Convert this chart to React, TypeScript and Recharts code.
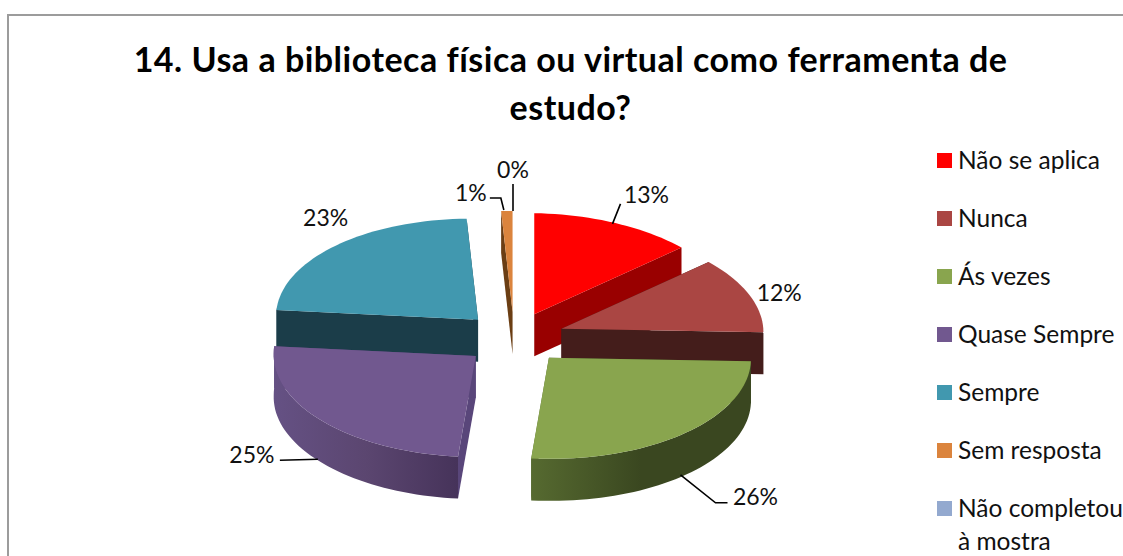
import React from "react";
import { PieChart, Pie, Legend } from "recharts";

const W = 1123;
const H = 556;

const categories = ["Não se aplica", "Nunca", "Ás vezes", "Quase Sempre", "Sempre", "Sem resposta", "Não completou à mostra"];
const values = [13, 12, 26, 25, 23.1, 0.9, 0];
const topColors = ["#FF0000", "#AA4643", "#89A54E", "#71588F", "#4198AF", "#DB843D", "#93A9CF"];
const sideColors = ["#990000", "#441D1B", "#3A4720", "#59467A", "#1B3D49", "#6B3E14", "#3E4F70"];
const wallStops: string[][] = [
  ["#990000", "#990000"],
  ["#441D1B", "#441D1B"],
  ["#566A30", "#3A4720", "#3A4720"],
  ["#655184", "#5B4670", "#46335A"],
  ["#1B3D49", "#1B3D49"],
  ["#6B3E14", "#6B3E14"],
  ["#3E4F70", "#3E4F70"],
];
// painter's order: back slices first, clockwise so the library's angles stay right
const drawOrder = [4, 5, 6, 0, 1, 2, 3];

const total = values.reduce((a, b) => a + b, 0);
const before = values.slice(0, drawOrder[0]).reduce((a, b) => a + b, 0);
const startAngle = 90 - (before / total) * 360;

const pieData = drawOrder.map((i) => ({
  name: categories[i],
  value: values[i],
  fill: topColors[i],
  idx: i,
}));

const RATIO = 0.5;
const DEPTH = 42;
const EXPLODE_X = 51;
const EXPLODE_Y = 26.5;
const rad = (d: number) => (d * Math.PI) / 180;

function projector(cx: number, cy: number, R: number, mid: number) {
  const ox = cx + EXPLODE_X * Math.sin(rad(mid));
  const oy = cy - EXPLODE_Y * Math.cos(rad(mid));
  const pt = (theta: number, r = R) => {
    const sx = r * Math.sin(rad(theta));
    const sy = -r * RATIO * Math.cos(rad(theta));
    return [ox + sx - 0.05 * Math.max(0, sy), oy + sy + 0.017 * sx];
  };
  return pt;
}

const poly = (pts: number[][]) => pts.map((p) => `${p[0].toFixed(2)},${p[1].toFixed(2)}`).join(" ");
const down = (p: number[]) => [p[0], p[1] + DEPTH];

function arcPts(pt: (t: number) => number[], a: number, b: number) {
  const n = Math.max(2, Math.ceil((b - a) / 2));
  const out: number[][] = [];
  for (let k = 0; k <= n; k++) out.push(pt(a + ((b - a) * k) / n));
  return out;
}

function Slice3D(props: any) {
  const { cx, cy, outerRadius, startAngle: sa, endAngle: ea, payload, idx } = props;
  const i = payload?.idx ?? idx;
  const t0 = 90 - sa;
  const t1 = 90 - ea;
  const a = Math.min(t0, t1);
  const b = Math.max(t0, t1);
  const norm = a < 0 ? 360 : a >= 360 ? -360 : 0;
  const th0 = a + norm;
  const th1 = b + norm;
  if (th1 - th0 < 0.01) return <g />;
  const mid = (th0 + th1) / 2;
  const pt = projector(cx, cy, outerRadius, mid);
  const apex = pt(0, 0);
  const p0 = pt(th0);
  const p1 = pt(th1);
  const top = [apex, ...arcPts(pt, th0, th1)];
  const fa = Math.max(th0, 90);
  const fb = Math.min(th1, 275);
  const gradId = `wall-${i}`;
  const stops = wallStops[i];
  let wall: React.ReactNode = null;
  if (fb > fa) {
    const front = arcPts(pt, fa, fb);
    wall = <polygon points={poly([...front, ...front.slice().reverse().map(down)])} fill={`url(#${gradId})`} />;
  }
  return (
    <g>
      <defs>
        <linearGradient id={gradId} x1="0" y1="0" x2="1" y2="0">
          {stops.map((c, k) => (
            <stop key={k} offset={k / (stops.length - 1)} stopColor={c} />
          ))}
        </linearGradient>
      </defs>
      <polygon points={poly([apex, p0, down(p0), down(apex)])} fill={sideColors[i]} />
      <polygon points={poly([apex, p1, down(p1), down(apex)])} fill={i === 3 ? sideColors[i] : stops[0]} />
      {wall}
      <polygon points={poly(top)} fill={topColors[i]} />
    </g>
  );
}

// label text centre and leader bends, relative to the point where each slice's mid-arc lands
const labelLayout: Record<number, { text: number[]; line?: number[][] }> = {
  0: { text: [32, -29], line: [[-2, 1], [6, -19]] },
  1: { text: [30, -3] },
  2: { text: [72, 62], line: [[-3, 41], [32, 69], [44, 69]] },
  3: { text: [-69, 34], line: [[-3, 39], [-41, 40]] },
  4: { text: [-10, -29] },
  5: { text: [-36, -19], line: [[-3, -1], [-6, -13], [-17, -13]] },
  6: { text: [-1, -42], line: [[-1, 0], [-1, -27]] },
};

function SliceLabel(props: any) {
  const { cx, cy, outerRadius, midAngle, payload, value } = props;
  const i = payload?.idx;
  const layout = labelLayout[i];
  if (!layout) return <g />;
  let th = 90 - midAngle;
  while (th < 0) th += 360;
  if (th === 0) th = 360;
  const pt = projector(cx, cy, outerRadius, th);
  const [ax, ay] = pt(th);
  return (
    <g>
      {layout.line && (
        <polyline
          points={poly(layout.line.map((p) => [ax + p[0], ay + p[1]]))}
          fill="none"
          stroke="#000"
          strokeWidth={1.6}
        />
      )}
      <text
        x={ax + layout.text[0]}
        y={ay + layout.text[1]}
        textAnchor="middle"
        dominantBaseline="central"
        fontFamily="Lato"
        fontSize={23}
        fill="#111"
      >
        {`${Math.round(value)}%`}
      </text>
    </g>
  );
}

const legendLines = categories.map((c) => (c === "Não completou à mostra" ? ["Não completou", "à mostra"] : [c]));

function ChartLegend() {
  return (
    <div style={{ position: "absolute", left: 0, top: 0, width: W, height: H, overflow: "hidden" }}>
      {categories.map((c, i) => (
        <div key={c}>
          <div
            style={{
              position: "absolute",
              left: 937,
              top: 153 + i * 58,
              width: 15,
              height: 15,
              background: topColors[i],
            }}
          />
          {legendLines[i].map((line, k) => (
            <div
              key={line}
              style={{
                position: "absolute",
                left: 958,
                top: 145 + i * 58 + k * 33,
                height: 30,
                lineHeight: "30px",
                fontFamily: "Lato",
                fontSize: 24.5,
                color: "#111",
                whiteSpace: "nowrap",
              }}
            >
              {line}
            </div>
          ))}
        </div>
      ))}
    </div>
  );
}

const titleLines = ["14. Usa a biblioteca física ou virtual como ferramenta de", "estudo?"];

export default function App() {
  return (
    <div style={{ position: "fixed", left: 0, top: 0, width: W, height: H, overflow: "hidden", background: "#fff" }}>
      <div
        style={{
          position: "absolute",
          left: 7,
          top: 14,
          width: W + 50,
          height: H + 50,
          borderLeft: "2px solid #9C9C9C",
          borderTop: "2px solid #9C9C9C",
        }}
      />
      {titleLines.map((t, k) => (
        <div
          key={t}
          style={{
            position: "absolute",
            left: 0,
            width: 1141,
            top: 35 + k * 48,
            textAlign: "center",
            fontFamily: "Lato",
            fontWeight: 700,
            fontSize: 34,
            letterSpacing: 0.5,
            lineHeight: "48px",
            color: "#000",
            whiteSpace: "nowrap",
          }}
        >
          {t}
        </div>
      ))}
      <div style={{ position: "absolute", left: 0, top: 0 }}>
        <PieChart width={W} height={H} margin={{ top: 0, right: 0, bottom: 0, left: 0 }}>
          <Pie
            data={pieData}
            dataKey="value"
            nameKey="name"
            cx={514}
            cy={338.5}
            innerRadius={0}
            outerRadius={202}
            startAngle={startAngle}
            endAngle={startAngle - 360}
            stroke="none"
            isAnimationActive={false}
            shape={Slice3D}
            label={SliceLabel}
            labelLine={false}
          />
          <Legend content={ChartLegend} wrapperStyle={{ left: 0, top: 0, width: W, height: H }} />
        </PieChart>
      </div>
    </div>
  );
}
